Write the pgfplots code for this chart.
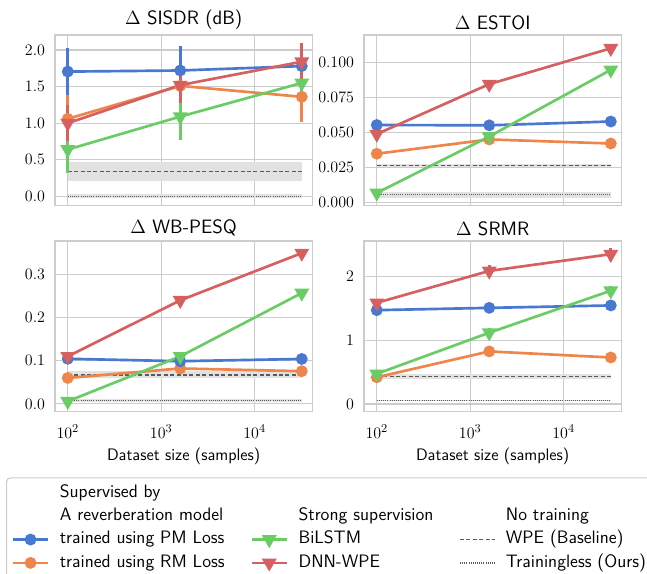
\documentclass[border=0pt]{standalone}
\usepackage{pgfplots}
\pgfplotsset{compat=1.18}

\definecolor{cblue}{HTML}{4878D0}
\definecolor{corange}{HTML}{EE854A}
\definecolor{cgreen}{HTML}{6ACC64}
\definecolor{cred}{HTML}{D65F5F}
\definecolor{gridc}{HTML}{CCCCCC}
\definecolor{bandc}{HTML}{E2E2E2}
\definecolor{basec}{HTML}{5A5A5A}

\pgfplotsset{
  every axis/.append style={
    width=193pt, height=128pt, scale only axis,
    xmin=73, xmax=41500,
    xtick={100,1000,10000},
    grid=major,
    major grid style={gridc, line width=0.8pt},
    axis line style={gridc, line width=1pt},
    major tick length=0pt, minor tick length=0pt,
    scaled y ticks=false,
    tick label style={font=\fontsize{12.5}{14}\selectfont},
    yticklabel style={xshift=-4pt},
    xticklabel style={yshift=-6.5pt},
    title style={font=\sffamily\fontsize{14.5}{16}\selectfont, yshift=-5.5pt},
    label style={font=\sffamily\fontsize{12.5}{14}\selectfont},
  },
  sEB/.style={error bars/y dir=both, error bars/y explicit, error bars/error mark=none,
    error bars/error bar style={line width=2pt, solid, #1}},
  sPM/.style={cblue, line width=2pt, mark=*, mark size=3.4pt, mark options={solid}},
  sRM/.style={corange, line width=2pt, mark=*, mark size=3.4pt, mark options={solid}},
  sBI/.style={cgreen, line width=2pt, mark=triangle*, mark size=4.5pt, mark options={solid, rotate=180}},
  sDN/.style={cred, line width=2pt, mark=triangle*, mark size=4.5pt, mark options={solid, rotate=180}},
  sWPE/.style={basec, line width=0.9pt, dash pattern=on 3pt off 1.8pt},
  sTL/.style={basec, line width=0.9pt, dash pattern=on 0.7pt off 0.9pt},
  sBand/.style={draw=none, fill=bandc, forget plot},
  sHead/.style={legend image code/.code={\path[draw=none, fill=none] (0pt,0pt) -- (26pt,0pt);}},
}

\begin{document}
\begin{tikzpicture}
\useasboundingbox (0,0) rectangle (485.25pt,-430.5pt);

% SISDR
\begin{semilogxaxis}[at={(41.25pt,-26.25pt)}, anchor=north west,
  title={$\Delta$ SISDR (dB)},
  ymin=-0.127, ymax=2.205, ytick={0,0.5,1,1.5,2},
  y tick label style={/pgf/number format/fixed, /pgf/number format/fixed zerofill, /pgf/number format/precision=1},
  xticklabels={}]
\addplot[sBand] coordinates {(100,0.215) (32000,0.215) (32000,0.465) (100,0.465)} -- cycle;
\addplot[sBand] coordinates {(100,-0.022) (32000,-0.022) (32000,0.028) (100,0.028)} -- cycle;
\addplot[sWPE] coordinates {(100,0.34) (32000,0.34)};
\addplot[sTL] coordinates {(100,0.003) (32000,0.003)};
\addplot[sRM, sEB=corange] coordinates {(100,1.06) +- (0,0.33) (1600,1.51) +- (0,0.33) (32000,1.36) +- (0,0.34)};
\addplot[sPM, sEB=cblue] coordinates {(100,1.705) +- (0,0.32) (1600,1.72) +- (0,0.33) (32000,1.78) +- (0,0.12)};
\addplot[sBI, sEB=cgreen] coordinates {(100,0.64) +- (0,0.32) (1600,1.09) +- (0,0.32) (32000,1.55) +- (0,0.2)};
\addplot[sDN, sEB=cred] coordinates {(100,1.0) +- (0,0.25) (1600,1.52) +- (0,0.25) (32000,1.84) +- (0,0.26)};
\end{semilogxaxis}

% ESTOI
\begin{semilogxaxis}[at={(273pt,-26.25pt)}, anchor=north west,
  title={$\Delta$ ESTOI},
  ymin=-0.0024, ymax=0.1195, ytick={0,0.025,0.05,0.075,0.1},
  y tick label style={/pgf/number format/fixed, /pgf/number format/fixed zerofill, /pgf/number format/precision=3},
  xticklabels={}]
\addplot[sBand] coordinates {(100,0.0255) (32000,0.0255) (32000,0.0273) (100,0.0273)} -- cycle;
\addplot[sBand] coordinates {(100,0.0033) (32000,0.0033) (32000,0.0077) (100,0.0077)} -- cycle;
\addplot[sWPE] coordinates {(100,0.0264) (32000,0.0264)};
\addplot[sTL] coordinates {(100,0.0055) (32000,0.0055)};
\addplot[sRM, sEB=corange] coordinates {(100,0.0347) +- (0,0.002) (1600,0.0449) +- (0,0.002) (32000,0.042) +- (0,0.002)};
\addplot[sPM, sEB=cblue] coordinates {(100,0.0552) +- (0,0.003) (1600,0.055) +- (0,0.003) (32000,0.0577) +- (0,0.004)};
\addplot[sBI, sEB=cgreen] coordinates {(100,0.0067) +- (0,0.001) (1600,0.047) +- (0,0.002) (32000,0.0946) +- (0,0.002)};
\addplot[sDN, sEB=cred] coordinates {(100,0.0487) +- (0,0.002) (1600,0.0844) +- (0,0.002) (32000,0.110) +- (0,0.003)};
\end{semilogxaxis}

% WB-PESQ
\begin{semilogxaxis}[at={(41.25pt,-180.75pt)}, anchor=north west,
  title={$\Delta$ WB-PESQ},
  xlabel={Dataset size (samples)},
  ymin=-0.018, ymax=0.377, ytick={0,0.1,0.2,0.3},
  y tick label style={/pgf/number format/fixed, /pgf/number format/fixed zerofill, /pgf/number format/precision=1},
  legend style={at={(-0.1904,-0.385)}, anchor=north west,
    draw=gridc, line width=0.8pt, rounded corners=3pt, fill=white,
    font=\sffamily\fontsize{13.5}{15}\selectfont,
    inner sep=4pt,
    nodes={inner sep=1pt, text height=9.5pt, text depth=3pt},
    /tikz/every odd column/.append style={column sep=7pt},
    /tikz/every even column/.append style={column sep=18.5pt},
    row sep=3pt},
  legend columns=3, legend cell align=left,
  legend image code/.code={\draw[mark repeat=2, mark phase=2, #1] plot coordinates {(0pt,0pt) (13pt,0pt) (26pt,0pt)};},
]
\addlegendimage{sHead}\addlegendentry{Supervised by}
\addlegendimage{sHead}\addlegendentry{}
\addlegendimage{sHead}\addlegendentry{}
\addlegendimage{sHead}\addlegendentry{A reverberation model}
\addlegendimage{sHead}\addlegendentry{Strong supervision}
\addlegendimage{sHead}\addlegendentry{No training}
\addlegendimage{sPM}\addlegendentry{trained using PM Loss}
\addlegendimage{sBI}\addlegendentry{BiLSTM}
\addlegendimage{sWPE}\addlegendentry{WPE (Baseline)}
\addlegendimage{sRM}\addlegendentry{trained using RM Loss}
\addlegendimage{sDN}\addlegendentry{DNN-WPE}
\addlegendimage{sTL}\addlegendentry{Trainingless (Ours)}
\addplot[sBand] coordinates {(100,0.059) (32000,0.059) (32000,0.075) (100,0.075)} -- cycle;
\addplot[sBand] coordinates {(100,0.004) (32000,0.004) (32000,0.011) (100,0.011)} -- cycle;
\addplot[sWPE, forget plot] coordinates {(100,0.067) (32000,0.067)};
\addplot[sTL, forget plot] coordinates {(100,0.0077) (32000,0.0077)};
\addplot[sRM, sEB=corange, forget plot] coordinates {(100,0.060) +- (0,0.003) (1600,0.082) +- (0,0.003) (32000,0.0757) +- (0,0.003)};
\addplot[sPM, sEB=cblue, forget plot] coordinates {(100,0.1044) +- (0,0.003) (1600,0.0988) +- (0,0.003) (32000,0.104) +- (0,0.003)};
\addplot[sBI, sEB=cgreen, forget plot] coordinates {(100,0.006) +- (0,0.002) (1600,0.110) +- (0,0.003) (32000,0.2566) +- (0,0.004)};
\addplot[sDN, sEB=cred, forget plot] coordinates {(100,0.110) +- (0,0.003) (1600,0.2397) +- (0,0.004) (32000,0.349) +- (0,0.005)};
\end{semilogxaxis}

% SRMR
\begin{semilogxaxis}[at={(273pt,-180.75pt)}, anchor=north west,
  title={$\Delta$ SRMR},
  xlabel={Dataset size (samples)},
  ymin=-0.12, ymax=2.56, ytick={0,1,2}]
\addplot[sBand] coordinates {(100,0.40) (32000,0.40) (32000,0.47) (100,0.47)} -- cycle;
\addplot[sBand] coordinates {(100,0.04) (32000,0.04) (32000,0.064) (100,0.064)} -- cycle;
\addplot[sWPE] coordinates {(100,0.436) (32000,0.436)};
\addplot[sTL] coordinates {(100,0.052) (32000,0.052)};
\addplot[sRM, sEB=corange] coordinates {(100,0.42) +- (0,0.04) (1600,0.826) +- (0,0.05) (32000,0.731) +- (0,0.04)};
\addplot[sPM, sEB=cblue] coordinates {(100,1.474) +- (0,0.04) (1600,1.51) +- (0,0.04) (32000,1.548) +- (0,0.05)};
\addplot[sBI, sEB=cgreen] coordinates {(100,0.474) +- (0,0.04) (1600,1.12) +- (0,0.07) (32000,1.779) +- (0,0.07)};
\addplot[sDN, sEB=cred] coordinates {(100,1.589) +- (0,0.05) (1600,2.09) +- (0,0.09) (32000,2.353) +- (0,0.1)};
\end{semilogxaxis}
\end{tikzpicture}
\end{document}
